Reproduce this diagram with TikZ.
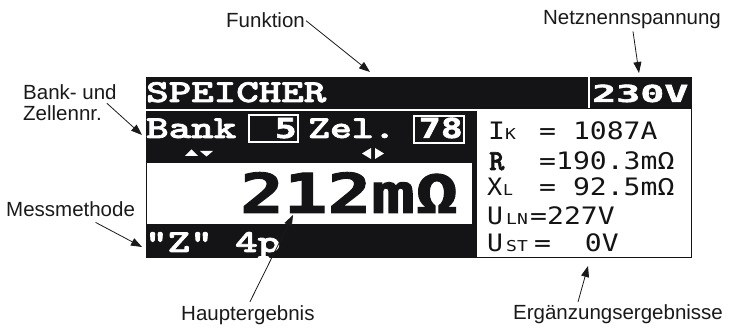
\documentclass[tikz,border=0pt]{standalone}
\usepackage{fontspec}
\usepackage{graphicx}
\usetikzlibrary{arrows.meta,calc}
\setmainfont{Liberation Sans}
\newfontfamily\lcdslab{lmmonolt10-bold}[Extension=.otf, FakeBold=2]
\newfontfamily\lcdsans{DejaVu Sans Mono}[BoldFeatures={FakeBold=1.6}]
\newcommand\lcdstretch[2]{\scalebox{#1}[1]{#2}}
\definecolor{lcdblack}{RGB}{20,20,22}
\definecolor{labelc}{RGB}{26,26,26}
\tikzset{
  lbl/.style={font=\fontsize{20.5}{21}\selectfont, text=labelc, inner sep=0pt, align=left},
  callout/.style={draw=labelc, line width=0.8pt, -{Triangle[length=11pt,width=8pt]}},
  serifw/.style={font=\lcdslab\fontsize{32}{32}\selectfont, text=white, inner sep=0pt, anchor=base west},
  sansw/.style={font=\lcdsans\bfseries\fontsize{27.5}{28}\selectfont, text=white, inner sep=0pt},
  bigval/.style={font=\lcdsans\bfseries\fontsize{55}{55}\selectfont, text=lcdblack, inner sep=0pt, anchor=base west},
  panel/.style={font=\lcdsans\fontsize{24}{24}\selectfont, text=lcdblack, inner sep=0pt, anchor=base west},
  panelsub/.style={font=\lcdsans\fontsize{15}{15}\selectfont, text=lcdblack, inner sep=0pt, anchor=base west},
  panelbold/.style={font=\lcdslab\fontsize{29}{29}\selectfont, text=lcdblack, inner sep=0pt, anchor=base west},
  numbox/.style={draw=white, line width=2pt}
}
\begin{document}
\begin{tikzpicture}[x=1pt,y=-1pt]
\useasboundingbox (0,0) rectangle (732,328);

% display body
\fill[lcdblack] (146,77) rectangle (692,258);
\fill[white] (146,109) rectangle (477,111);
\fill[white] (477,109) rectangle (691,257);
\fill[white] (147,163) rectangle (472,224);
\fill[white] (588,77) rectangle (590,108);

% header line
\node[serifw] (speicher) at (146,102) {\lcdstretch{1.34}{SPEICHER}};
\node[sansw, font=\lcdsans\bfseries\fontsize{23.5}{24}\selectfont, anchor=base west] (volt) at (592,102) {\lcdstretch{1.7}{230V}};

% bank / cell selection
\node[serifw] (bank) at (146,138) {\lcdstretch{1.34}{Bank}};
\draw[numbox] (249,115) rectangle (298,142);
\node[sansw, anchor=base east] (banknr) at (297,138) {\lcdstretch{1.33}{5}};
\node[serifw] (zel) at (308,138) {\lcdstretch{1.3}{Zel.}};
\draw[numbox] (414,116) rectangle (464,143);
\node[sansw, anchor=base east] (zelnr) at (463,138) {\lcdstretch{1.33}{78}};

% selector marks
\fill[white] (185,156) -- (191.5,149.5) -- (198,156) -- cycle;
\fill[white] (200,151) -- (213,151) -- (206.5,156.5) -- cycle;
\fill[white] (362,153.5) -- (371,148) -- (371,159) -- cycle;
\fill[white] (375,148) -- (375,159) -- (384,153.5) -- cycle;

% main result
\node[bigval] (main) at (240,213) {\lcdstretch{1.32}{212mΩ}};

% method line
\node[serifw] (method) at (145,252) {\lcdstretch{1.34}{"Z" 4p}};

% secondary results
\node[panel] (ik) at (488,140) {\lcdstretch{1.17}{I}};
\node[panelsub] (iksub) at (505,140) {\lcdstretch{1.2}{K}};
\node[panel] (ikval) at (539,140) {\lcdstretch{1.17}{= 1087A}};

\node[panelbold] (r) at (489,170) {R};
\node[panel] (rval) at (539,170) {\lcdstretch{1.17}{=190.3mΩ}};

\node[panel] (xl) at (487,195.5) {\lcdstretch{1.05}{X}};
\node[panelsub] (xlsub) at (503,195.5) {\lcdstretch{1.1}{L}};
\node[panel] (xlval) at (539,195.5) {\lcdstretch{1.17}{= 92.5mΩ}};

\node[panel] (uln) at (487,225) {\lcdstretch{1.1}{U}};
\node[panelsub] (ulnsub) at (506,225) {\lcdstretch{1.2}{LN}};
\node[panel] (ulnval) at (530,225) {\lcdstretch{1.17}{=227V}};

\node[panel] (ust) at (487,251.5) {\lcdstretch{1.1}{U}};
\node[panelsub] (ustsub) at (506,251.5) {\lcdstretch{1.2}{ST}};
\node[panel] (ustval) at (534,251.5) {\lcdstretch{1.17}{=~~0V}};

% callout labels
\node[lbl, anchor=base west] (funk) at (226,28) {Funktion};
\node[lbl, anchor=base] (netz) at (632,25) {Netznennspannung};
\node[lbl, anchor=north west] (banklbl) at (23,84) {Bank- und\\Zellennr.};
\node[lbl, anchor=base west] (mess) at (6,217) {Messmethode};
\node[lbl, anchor=base west] (haupt) at (181,321) {Hauptergebnis};
\node[lbl, anchor=base west] (erg) at (513,320) {Ergänzungsergebnisse};

\coordinate (funkTip) at (370,72);
\coordinate (netzTip) at (639,73);
\coordinate (bankTip) at (142,135);
\coordinate (messTip) at (142,247);
\coordinate (hauptTip) at (293,215);
\coordinate (ergTip) at (588,266);

\draw[callout] ([xshift=1pt]funk.east) -- (funkTip);
\draw[callout] ([xshift=1pt,yshift=-2pt]netz.south) -- (netzTip);
\draw[callout] ($(banklbl.east)+(-10,1)$) -- (bankTip);
\draw[callout] ($(mess.south)+(25,5)$) -- (messTip);
\draw[callout] ([xshift=2pt,yshift=4pt]haupt.north) -- (hauptTip);
\draw[callout] ($(erg.north west)+(65,-3)$) -- (ergTip);
\end{tikzpicture}
\end{document}
